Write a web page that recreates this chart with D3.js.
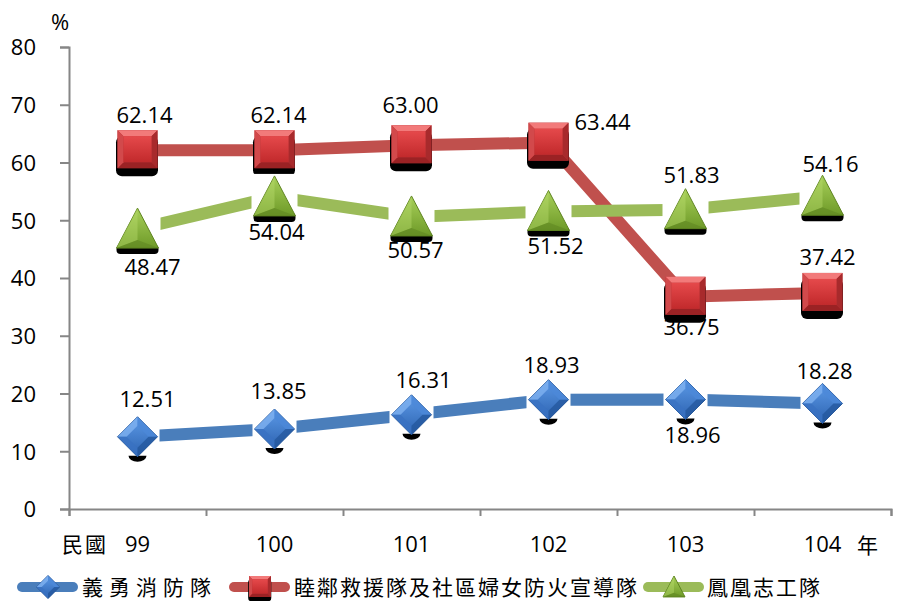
<!DOCTYPE html>
<html>
<head>
<meta charset="utf-8">
<script src="https://cdn.jsdelivr.net/npm/d3@7"></script>
<style>
  html, body { margin: 0; padding: 0; background: #fff; }
  svg { display: block; }
  .num { font-family: "Open Sans", "Noto Sans", sans-serif; font-size: 22px; fill: #000; }
  .cjk { font-family: "Noto Sans CJK TC", "Noto Sans CJK SC", sans-serif; font-size: 21px; fill: #000; }
</style>
</head>
<body>
<svg id="chart" width="913" height="601"></svg>
<script>
// ---------- data ----------
const categories = ["99", "100", "101", "102", "103", "104"];
const seriesNames = ["義勇消防隊", "睦鄰救援隊及社區婦女防火宣導隊", "鳳凰志工隊"];
const volunteerFire = [12.51, 13.85, 16.31, 18.93, 18.96, 18.28];
const neighborRescue = [62.14, 62.14, 63.00, 63.44, 36.75, 37.42];
const phoenix = [48.47, 54.04, 50.57, 51.52, 51.83, 54.16];
const yTicks = [0, 10, 20, 30, 40, 50, 60, 70, 80];

// ---------- layout ----------
const svg = d3.select("#chart");
const x = d3.scaleBand().domain(categories).range([69, 891]).paddingInner(0).paddingOuter(0);
const y = d3.scaleLinear().domain([0, 80]).range([509, 47]);
const cx = c => x(c) + x.bandwidth() / 2;

// label placement [dx, dy(baseline), anchor]
const labelPlacement = [
  [[10, -30], [4, -30], [12, -27], [3, -27], [7, 43], [2, -24]],
  [[7, -27], [4, -27], [-1, -32], [26, -13, "start"], [6, 38], [5, -28]],
  [[15, 46], [2, 43], [4, 41], [7, 43], [6, -27], [8, -24]]
];

// ---------- gradients ----------
const defs = svg.append("defs");
function lg(id, stops, x2 = 0, y2 = 1) {
  const g = defs.append("linearGradient").attr("id", id)
    .attr("x1", 0).attr("y1", 0).attr("x2", x2).attr("y2", y2);
  stops.forEach(([o, c]) => g.append("stop").attr("offset", o).attr("stop-color", c));
}
lg("redFace", [[0, "#E5494B"], [1, "#C22A2C"]]);
lg("blueFace", [[0, "#5D9BE8"], [1, "#2C62B0"]]);
lg("greenFace", [[0, "#A8D05A"], [1, "#6E9A28"]]);

// ---------- axes ----------
const axisColor = "#868686";
const yAxis = svg.append("g").attr("transform", "translate(69,0)")
  .call(d3.axisLeft(y).tickValues(yTicks).tickSize(9).tickPadding(24));
yAxis.select(".domain").attr("stroke", axisColor).attr("stroke-width", 2);
yAxis.selectAll(".tick line").attr("stroke", axisColor).attr("stroke-width", 2);
yAxis.selectAll(".tick text").attr("class", "num").attr("font-family", null).attr("font-size", null)
  .attr("dy", "0.36em");

const xi = d3.scaleLinear().domain([0, categories.length]).range([69, 891]);
const xAxis = svg.append("g").attr("transform", "translate(0,509)")
  .call(d3.axisBottom(xi).tickValues(d3.range(categories.length + 1)).tickSize(7).tickFormat(""));
xAxis.select(".domain").attr("stroke", axisColor).attr("stroke-width", 2);
xAxis.selectAll(".tick line").attr("stroke", axisColor).attr("stroke-width", 2);

svg.append("g").selectAll("text").data(categories).join("text")
  .attr("class", "num").attr("x", d => cx(d)).attr("y", 552).attr("text-anchor", "middle").text(d => d);
svg.append("text").attr("class", "cjk").attr("x", 62).attr("y", 552).attr("font-size", 22)
  .attr("letter-spacing", 2).text("民國");
svg.append("text").attr("class", "cjk").attr("x", 857).attr("y", 553).attr("font-size", 21).text("年");
svg.append("text").attr("class", "num").attr("x", 51).attr("y", 30).attr("font-size", 23).text("%");

// ---------- markers ----------
function drawSquare(g, px, py, s) {
  const k = s / 40;
  g.append("rect").attr("x", px - 21.5 * k).attr("y", py - 14 * k).attr("width", 42 * k).attr("height", 40 * k)
    .attr("rx", 6 * k).attr("fill", "#000");
  g.append("rect").attr("x", px - 20 * k).attr("y", py - 20 * k).attr("width", 40 * k).attr("height", 38 * k)
    .attr("fill", "#B83234");
  const a = 20 * k, b = 14 * k, t = -20 * k, bt = 18 * k, it = -14 * k, ib = 12 * k;
  g.append("polygon").attr("points", `${px-a},${py+t} ${px+a},${py+t} ${px+b},${py+it} ${px-b},${py+it}`).attr("fill", "#F27A7A");
  g.append("polygon").attr("points", `${px-a},${py+bt} ${px+a},${py+bt} ${px+b},${py+ib} ${px-b},${py+ib}`).attr("fill", "#9B2224");
  g.append("polygon").attr("points", `${px-a},${py+t} ${px-b},${py+it} ${px-b},${py+ib} ${px-a},${py+bt}`).attr("fill", "#D2494B");
  g.append("polygon").attr("points", `${px+a},${py+t} ${px+b},${py+it} ${px+b},${py+ib} ${px+a},${py+bt}`).attr("fill", "#A82A2C");
  g.append("rect").attr("x", px - b).attr("y", py + it).attr("width", 2 * b).attr("height", ib - it)
    .attr("fill", "url(#redFace)");
}
function drawDiamond(g, px, py, s, bg) {
  const r = s / 2;
  if (bg) {
    g.append("rect").attr("x", px - r - 2).attr("y", py - r - 2).attr("width", 2 * r + 4).attr("height", 2 * r + 6).attr("fill", "#fff");
    const sy = py + r - 1;
    g.append("path").attr("d", `M${px-9},${sy} A9,6 0 0 0 ${px+9},${sy} Z`).attr("fill", "#000");
  }
  g.append("polygon").attr("points", `${px},${py-r} ${px+r},${py} ${px},${py+r} ${px-r},${py}`)
    .attr("fill", "url(#blueFace)").attr("stroke", "#2B5A9A").attr("stroke-width", 1);
  const i = r * 0.55;
  g.append("polygon").attr("points", `${px},${py-r} ${px-r},${py} ${px-i},${py} ${px},${py-i}`).attr("fill", "#7FB2F0").attr("opacity", 0.8);
  g.append("polygon").attr("points", `${px},${py-r} ${px+r},${py} ${px+i},${py} ${px},${py-i}`).attr("fill", "#4C88D8").attr("opacity", 0.8);
  g.append("polygon").attr("points", `${px},${py+r} ${px-r},${py} ${px-i},${py} ${px},${py+i}`).attr("fill", "#3A72C2").attr("opacity", 0.8);
  g.append("polygon").attr("points", `${px},${py+r} ${px+r},${py} ${px+i},${py} ${px},${py+i}`).attr("fill", "#24579E").attr("opacity", 0.8);
}
function drawTriangle(g, px, py, s, bg) {
  const w = s / 2, top = -21 * s / 42, bot = 19 * s / 42;
  if (bg) {
    g.append("rect").attr("x", px - w - 2).attr("y", py + top - 2).attr("width", 2 * w + 4).attr("height", bot - top + 10).attr("fill", "#fff");
    g.append("rect").attr("x", px - w).attr("y", py + bot - 3).attr("width", 2 * w).attr("height", 9).attr("rx", 4).attr("fill", "#000");
  }
  g.append("polygon").attr("points", `${px},${py+top} ${px+w},${py+bot} ${px-w},${py+bot}`)
    .attr("fill", "url(#greenFace)").attr("stroke", "#5E8420").attr("stroke-width", 1);
  g.append("polygon").attr("points", `${px},${py+top} ${px},${py+bot-8*s/42} ${px-w},${py+bot}`).attr("fill", "#B5DA6A").attr("opacity", 0.45);
  g.append("polygon").attr("points", `${px-w},${py+bot} ${px+w},${py+bot} ${px},${py+bot-8*s/42}`).attr("fill", "#5B8220").attr("opacity", 0.5);
}

const seriesData = [volunteerFire, neighborRescue, phoenix];
const colors = ["#4A7EBB", "#C0504D", "#9BBB59"];
const drawers = [drawDiamond, drawSquare, drawTriangle];

const line = d3.line().x((d, i) => cx(categories[i])).y(d => y(d));

seriesData.forEach((vals, si) => {
  const g = svg.append("g");
  g.append("path").datum(vals).attr("d", line).attr("fill", "none")
    .attr("stroke", colors[si]).attr("stroke-width", 12);
  vals.forEach((v, i) => {
    drawers[si](g, cx(categories[i]), y(v), si === 2 ? 42 : 40, true);
  });
});

// labels
seriesData.forEach((vals, si) => {
  svg.append("g").selectAll("text").data(vals).join("text")
    .attr("class", "num")
    .attr("x", (d, i) => cx(categories[i]) + labelPlacement[si][i][0])
    .attr("y", (d, i) => y(d) + labelPlacement[si][i][1])
    .attr("text-anchor", (d, i) => labelPlacement[si][i][2] || "middle")
    .text(d => d.toFixed(2));
});

// ---------- legend ----------
const legendY = 587;
const legendItems = [
  { x0: 17, x1: 78, mx: 48, tx: 82 },
  { x0: 229, x1: 290, mx: 260, tx: 294 },
  { x0: 643, x1: 704, mx: 674, tx: 707 }
];
legendItems.forEach((it, si) => {
  const g = svg.append("g");
  g.append("line").attr("x1", it.x0 + 5).attr("x2", it.x1 - 5).attr("y1", legendY).attr("y2", legendY)
    .attr("stroke", colors[si]).attr("stroke-width", 10).attr("stroke-linecap", "round");
  drawers[si](g, it.mx, legendY, si === 0 ? 23 : 22, false);
  g.append("text").attr("class", "cjk").attr("x", it.tx).attr("y", legendY + 8)
    .attr("letter-spacing", si === 0 ? 6 : 2).text(seriesNames[si]);
});
</script>
</body>
</html>
